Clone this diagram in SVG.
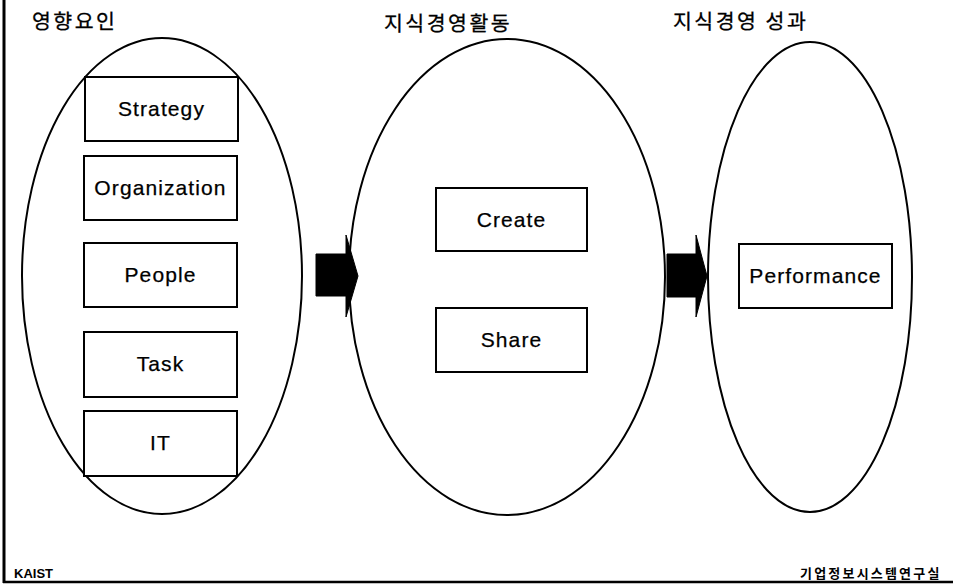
<svg xmlns="http://www.w3.org/2000/svg" width="953" height="585" viewBox="0 0 953 585">
  <style>
    .ell { fill: none; stroke: #000; stroke-width: 2; }
    .box { fill: #fff; stroke: #000; stroke-width: 2; }
    .lbl { font-family: "Liberation Sans", Arial, sans-serif; font-size: 21px; letter-spacing: 1.1px; fill: #000; stroke: #000; stroke-width: 0.25; text-anchor: middle; }
    .ttl { font-family: "Noto Sans CJK KR", "Liberation Sans", sans-serif; font-size: 20.5px; letter-spacing: 2.5px; fill: #000; stroke: #000; stroke-width: 0.3; }
    .foot { font-family: "Liberation Sans", "Noto Sans CJK KR", sans-serif; font-weight: bold; fill: #000; }
    .arr { fill: #000; stroke: #000; stroke-width: 1; stroke-linejoin: round; }
  </style>
  <rect width="953" height="585" fill="#fff"/>

  <!-- frame -->
  <line x1="4" y1="0" x2="4" y2="583" stroke="#000" stroke-width="3"/>
  <line x1="3" y1="582" x2="953" y2="582" stroke="#000" stroke-width="2.5"/>

  <!-- column titles -->
  <text class="ttl" x="32" y="29">영향요인</text>
  <text class="ttl" x="384" y="31">지식경영활동</text>
  <text class="ttl" x="673" y="29">지식경영 성과</text>

  <!-- group ellipses -->
  <g id="factors">
    <ellipse class="ell" cx="162" cy="276" rx="140" ry="238"/>
    <g id="strategy"><rect class="box" x="85" y="77" width="153" height="64"/><text class="lbl" x="161.5" y="116">Strategy</text></g>
    <g id="organization"><rect class="box" x="84" y="156" width="153" height="64"/><text class="lbl" x="160.5" y="195">Organization</text></g>
    <g id="people"><rect class="box" x="84" y="243" width="153" height="64"/><text class="lbl" x="160.5" y="282">People</text></g>
    <g id="task"><rect class="box" x="84" y="332" width="153" height="65"/><text class="lbl" x="160.5" y="371">Task</text></g>
    <g id="it"><rect class="box" x="84" y="411" width="153" height="65"/><text class="lbl" x="160.5" y="450">IT</text></g>
  </g>

  <g id="activities">
    <ellipse class="ell" cx="507" cy="277" rx="158" ry="238"/>
    <g id="create"><rect class="box" x="436" y="188" width="151" height="63"/><text class="lbl" x="511.5" y="227">Create</text></g>
    <g id="share"><rect class="box" x="436" y="308" width="151" height="64"/><text class="lbl" x="511.5" y="347">Share</text></g>
  </g>

  <g id="outcomes">
    <ellipse class="ell" cx="810" cy="277" rx="102" ry="235"/>
    <g id="performance"><rect class="box" x="739" y="244" width="153" height="64"/><text class="lbl" x="815.5" y="283">Performance</text></g>
  </g>

  <!-- block arrows -->
  <g id="connectors">
    <polygon class="arr" points="316,254 346,254 346,235 358,276 346,317 346,296 316,296"/>
    <polygon class="arr" points="667,254 696,254 696,235 707,276 696,317 696,297 667,297"/>
  </g>

  <!-- footer -->
  <text class="foot" x="14" y="578" font-size="13">KAIST</text>
  <text class="foot" x="800" y="578" font-size="13" letter-spacing="2.2">기업정보시스템연구실</text>
</svg>
